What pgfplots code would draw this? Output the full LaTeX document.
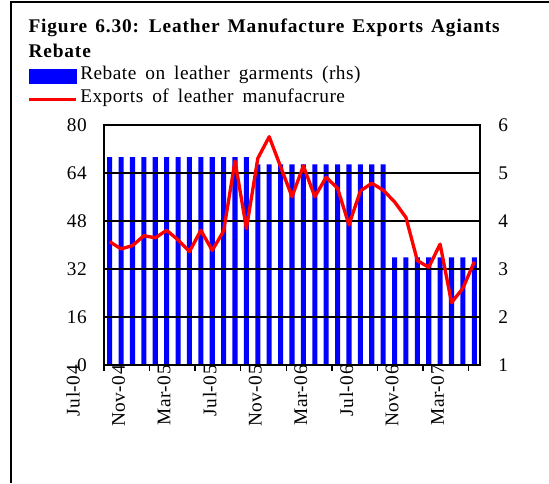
\documentclass[border=0pt]{standalone}
\usepackage{fontspec}
\setmainfont{Liberation Serif}[LetterSpace=2.5, WordSpace=1.7]
\newfontfamily\titlefont{Liberation Serif}[LetterSpace=4.5, WordSpace=1.4]
\usepackage{pgfplots}
\pgfplotsset{compat=1.18}
\pgfplotstableread{
i rebate
0 5.33
1 5.33
2 5.33
3 5.33
4 5.33
5 5.33
6 5.33
7 5.33
8 5.33
9 5.33
10 5.33
11 5.33
12 5.33
13 5.18
14 5.18
15 5.18
16 5.18
17 5.18
18 5.18
19 5.18
20 5.18
21 5.18
22 5.18
23 5.18
24 5.18
25 3.24
26 3.24
27 3.24
28 3.24
29 3.24
30 3.24
31 3.24
32 3.24
}\rebatetable
\pgfplotstableread{
i exports
0 41.1
1 38.7
2 39.8
3 43.1
4 42.4
5 44.9
6 41.7
7 37.8
8 44.9
9 38.2
10 44.7
11 68.0
12 45.5
13 68.9
14 76.1
15 66.1
16 56.1
17 66.4
18 56.1
19 62.6
20 58.9
21 46.7
22 58.0
23 60.6
24 58.3
25 54.4
26 49.2
27 34.8
28 32.6
29 40.3
30 20.8
31 25.6
32 34.4
}\exportstable
\begin{document}
\fontsize{14.5pt}{17pt}\selectfont
\begin{tikzpicture}
\useasboundingbox (0,0) rectangle (411.75pt,-362.25pt);
\draw[line width=1.5pt] (8.25pt,-362.25pt) -- (8.25pt,-1.5pt) -- (411.75pt,-1.5pt);
\node[anchor=base west, inner sep=0pt, font=\titlefont\bfseries] at (21.2pt,-24pt) {Figure 6.30: Leather Manufacture Exports Agiants};
\node[anchor=base west, inner sep=0pt, font=\titlefont\bfseries] at (21.2pt,-43pt) {Rebate};
\fill[blue] (21.75pt,-51.75pt) rectangle (57.75pt,-63pt);
\node[anchor=base west, inner sep=0pt] at (60pt,-59.5pt) {Rebate on leather garments (rhs)};
\draw[red, line width=2.25pt] (21.75pt,-74.25pt) -- (57pt,-74.25pt);
\node[anchor=base west, inner sep=0pt] at (60pt,-76.75pt) {Exports of leather manufacrure};
\begin{axis}[
  at={(78pt,-273.75pt)}, anchor=south west,
  width=282pt, height=180pt, scale only axis,
  xmin=-0.5, xmax=32.5, ymin=1, ymax=6,
  hide x axis,
  axis y line*=right,
  y axis line style={draw=none},
  ytick={1,2,3,4,5,6},
  ytick style={draw=none},
  yticklabel style={anchor=west, inner sep=0pt, xshift=13.5pt},
  /pgf/number format/assume math mode=true,
  ybar, bar width=3.8pt,
  clip=true,
]
\addplot[fill=blue, draw=none] table[x=i, y=rebate] {\rebatetable};
\end{axis}
\begin{axis}[
  at={(78pt,-273.75pt)}, anchor=south west,
  width=282pt, height=180pt, scale only axis,
  xmin=-0.5, xmax=32.5, ymin=0, ymax=80,
  ytick={0,16,32,48,64,80},
  ytick style={draw=none},
  ymajorgrids, grid style={black, line width=1.1pt},
  axis line style={line width=1.4pt},
  xtick={-0.5,3.5,7.5,11.5,15.5,19.5,23.5,27.5,31.5},
  xticklabels={Jul-04,Nov-04,Mar-05,Jul-05,Nov-05,Mar-06,Jul-06,Nov-06,Mar-07},
  xtick pos=bottom, ytick pos=left,
  tick align=outside,
  major tick length=4.5pt,
  xtick style={black, line width=1.1pt},
  xticklabel style={xshift=-23.25pt, yshift=4.5pt, rotate=90, anchor=east, inner sep=0pt},
  yticklabel style={anchor=east, inner sep=0pt, xshift=-8.25pt},
  /pgf/number format/assume math mode=true,
]
\addplot[red, line width=2.5pt, line join=round, mark=none] table[x=i, y=exports] {\exportstable};
\end{axis}
\end{tikzpicture}
\end{document}
